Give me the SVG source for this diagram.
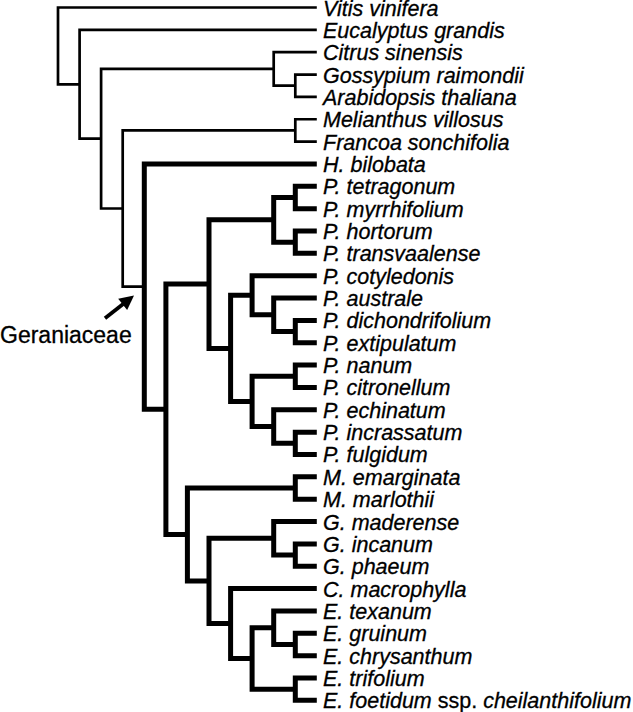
<svg xmlns="http://www.w3.org/2000/svg" width="633" height="712" viewBox="0 0 633 712">
<style>
.thin{fill:none;stroke:#000;stroke-width:2.7;stroke-linejoin:miter;stroke-linecap:butt}
.thick{fill:none;stroke:#000;stroke-width:5;stroke-linejoin:miter;stroke-linecap:butt}
.lf{font-family:"Liberation Sans",Arial,sans-serif;font-size:21.5px;font-style:italic;fill:#000;stroke:#000;stroke-width:0.3}
.up{font-style:normal}
.lab{font-family:"Liberation Sans",Arial,sans-serif;font-size:23px;fill:#000;stroke:#000;stroke-width:0.3}
</style>
<defs>
<marker id="ah" viewBox="0 0 10 10" refX="1" refY="5" markerWidth="4" markerHeight="3.8" orient="auto" markerUnits="strokeWidth">
<path d="M0,0 L10,5 L0,10 z" fill="#000"/>
</marker>
</defs>
<rect width="633" height="712" fill="#fff"/>
<g id="connectors">
<!-- outgroups (thin) -->
<path class="thin" d="M316.8 7.5 H58 V84.3 H79.6"/>
<path class="thin" d="M316.8 29.85 H79.6 V138.7 H101.1"/>
<path class="thin" d="M273.7 68.95 H101.1 V208.5 H122.7"/>
<path class="thin" d="M316.8 52.2 H273.7 V85.7 H295.3"/>
<path class="thin" d="M316.8 74.55 H295.3 V96.9 H316.8"/>
<path class="thin" d="M295.3 130.4 H122.7 V286.6 H144.3"/>
<path class="thin" d="M316.8 119.25 H295.3 V141.6 H316.8"/>
<!-- Geraniaceae (thick) -->
<path class="thick" d="M316.8 163.95 H144.3 V409.3 H165.9"/>
<path class="thick" d="M209 284.1 H165.9 V534.4 H187.4"/>
<path class="thick" d="M273.7 219.85 H209 V348.4 H230.6"/>
<path class="thick" d="M295.3 197.5 H273.7 V242.2 H295.3"/>
<path class="thick" d="M316.8 186.3 H295.3 V208.65 H316.8"/>
<path class="thick" d="M316.8 231 H295.3 V253.35 H316.8"/>
<path class="thick" d="M252.1 295.3 H230.6 V401.4 H252.1"/>
<path class="thick" d="M316.8 275.7 H252.1 V314.8 H273.7"/>
<path class="thick" d="M316.8 298.05 H273.7 V331.6 H295.3"/>
<path class="thick" d="M316.8 320.4 H295.3 V342.75 H316.8"/>
<path class="thick" d="M295.3 376.3 H252.1 V426.6 H273.7"/>
<path class="thick" d="M316.8 365.1 H295.3 V387.45 H316.8"/>
<path class="thick" d="M316.8 409.8 H273.7 V443.3 H295.3"/>
<path class="thick" d="M316.8 432.15 H295.3 V454.5 H316.8"/>
<path class="thick" d="M295.3 488 H187.4 V580.9 H209"/>
<path class="thick" d="M316.8 476.85 H295.3 V499.2 H316.8"/>
<path class="thick" d="M273.7 538.3 H209 V623.5 H230.6"/>
<path class="thick" d="M316.8 521.55 H273.7 V555.1 H295.3"/>
<path class="thick" d="M316.8 543.9 H295.3 V566.25 H316.8"/>
<path class="thick" d="M316.8 588.6 H230.6 V658.4 H252.1"/>
<path class="thick" d="M273.7 627.7 H252.1 V689.2 H295.3"/>
<path class="thick" d="M316.8 610.95 H273.7 V644.5 H295.3"/>
<path class="thick" d="M316.8 633.3 H295.3 V655.65 H316.8"/>
<path class="thick" d="M316.8 678 H295.3 V700.35 H316.8"/>
</g>
<g id="geraniaceae-label">
<text class="lab" x="0" y="343">Geraniaceae</text>
<line x1="105" y1="318.3" x2="123.8" y2="303.5" stroke="#000" stroke-width="3.8" marker-end="url(#ah)"/>
</g>
<g id="n0"><text class="lf" x="323" y="15.9">Vitis vinifera</text></g>
<g id="n1"><text class="lf" x="323" y="37.8">Eucalyptus grandis</text></g>
<g id="n2"><text class="lf" x="323" y="60.15">Citrus sinensis</text></g>
<g id="n3"><text class="lf" x="323" y="82.5">Gossypium raimondii</text></g>
<g id="n4"><text class="lf" x="323" y="104.85">Arabidopsis thaliana</text></g>
<g id="n5"><text class="lf" x="323" y="127.2">Melianthus villosus</text></g>
<g id="n6"><text class="lf" x="323" y="149.55">Francoa sonchifolia</text></g>
<g id="n7"><text class="lf" x="323" y="171.9">H. bilobata</text></g>
<g id="n8"><text class="lf" x="323" y="194.25">P. tetragonum</text></g>
<g id="n9"><text class="lf" x="323" y="216.6">P. myrrhifolium</text></g>
<g id="n10"><text class="lf" x="323" y="238.95">P. hortorum</text></g>
<g id="n11"><text class="lf" x="323" y="261.3">P. transvaalense</text></g>
<g id="n12"><text class="lf" x="323" y="283.65">P. cotyledonis</text></g>
<g id="n13"><text class="lf" x="323" y="306">P. australe</text></g>
<g id="n14"><text class="lf" x="323" y="328.35">P. dichondrifolium</text></g>
<g id="n15"><text class="lf" x="323" y="350.7">P. extipulatum</text></g>
<g id="n16"><text class="lf" x="323" y="373.05">P. nanum</text></g>
<g id="n17"><text class="lf" x="323" y="395.4">P. citronellum</text></g>
<g id="n18"><text class="lf" x="323" y="417.75">P. echinatum</text></g>
<g id="n19"><text class="lf" x="323" y="440.1">P. incrassatum</text></g>
<g id="n20"><text class="lf" x="323" y="462.45">P. fulgidum</text></g>
<g id="n21"><text class="lf" x="323" y="484.8">M. emarginata</text></g>
<g id="n22"><text class="lf" x="323" y="507.15">M. marlothii</text></g>
<g id="n23"><text class="lf" x="323" y="529.5">G. maderense</text></g>
<g id="n24"><text class="lf" x="323" y="551.85">G. incanum</text></g>
<g id="n25"><text class="lf" x="323" y="574.2">G. phaeum</text></g>
<g id="n26"><text class="lf" x="323" y="596.55">C. macrophylla</text></g>
<g id="n27"><text class="lf" x="323" y="618.9">E. texanum</text></g>
<g id="n28"><text class="lf" x="323" y="641.25">E. gruinum</text></g>
<g id="n29"><text class="lf" x="323" y="663.6">E. chrysanthum</text></g>
<g id="n30"><text class="lf" x="323" y="685.95">E. trifolium</text></g>
<g id="n31"><text class="lf" x="323" y="708.3">E. foetidum <tspan class="up">ssp.</tspan> cheilanthifolium</text></g>
</svg>
